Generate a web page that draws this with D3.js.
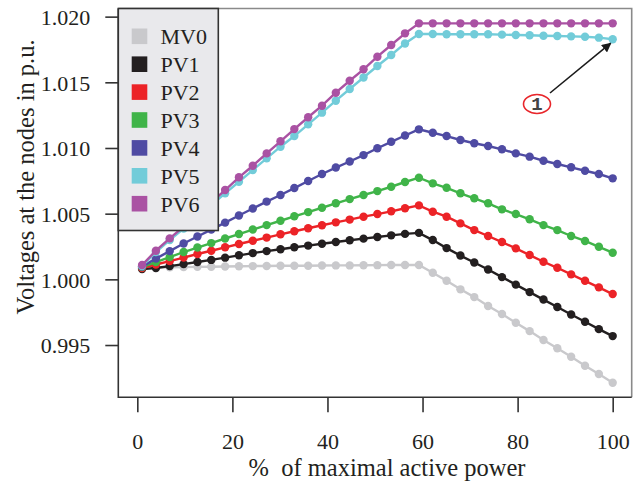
<!DOCTYPE html>
<html>
<head>
<meta charset="utf-8">
<script src="https://cdn.jsdelivr.net/npm/d3@7"></script>
<style>
  body { margin: 0; background: #fff; }
  text { font-family: "Liberation Serif", "DejaVu Serif", serif; fill: #231f20; }
</style>
</head>
<body>
<div id="chartDiv"></div>
<script>
// x positions: % of maximal active power
const xValues = [1, 3.91, 6.82, 9.74, 12.65, 15.56, 18.47, 21.38, 24.29, 27.21, 30.12, 33.03,
  35.94, 38.85, 41.76, 44.68, 47.59, 50.5, 53.41, 56.32, 59.24, 62.15, 65.06, 67.97, 70.88,
  73.79, 76.71, 79.62, 82.53, 85.44, 88.35, 91.26, 94.18, 97.09, 100];

// node voltages in p.u.
const mv0 = [1.00086, 1.00090, 1.00092, 1.00093, 1.00095, 1.00096, 1.00098, 1.00100, 1.00101,
  1.00102, 1.00103, 1.00103, 1.00104, 1.00105, 1.00106, 1.00106, 1.00107, 1.00108, 1.00109,
  1.00109, 1.00109, 1.00050, 0.99989, 0.99924, 0.99865, 0.99797, 0.99736, 0.99669, 0.99606,
  0.99538, 0.99475, 0.99411, 0.99342, 0.99279, 0.99213];
const pv1 = [1.00078, 1.00086, 1.00101, 1.00116, 1.00132, 1.00148, 1.00165, 1.00183, 1.00200,
  1.00215, 1.00229, 1.00244, 1.00257, 1.00271, 1.00284, 1.00298, 1.00310, 1.00322, 1.00335,
  1.00346, 1.00354, 1.00299, 1.00238, 1.00181, 1.00128, 1.00075, 1.00017, 0.99960, 0.99903,
  0.99846, 0.99789, 0.99732, 0.99677, 0.99621, 0.99568];
const pv2 = [1.00086, 1.00113, 1.00139, 1.00166, 1.00193, 1.00218, 1.00244, 1.00269, 1.00294,
  1.00318, 1.00343, 1.00366, 1.00389, 1.00412, 1.00434, 1.00455, 1.00477, 1.00497, 1.00518,
  1.00541, 1.00563, 1.00515, 1.00477, 1.00426, 1.00375, 1.00330, 1.00284, 1.00236, 1.00185,
  1.00134, 1.00088, 1.00038, 0.99989, 0.99939, 0.99888];
const pv3 = [1.00094, 1.00132, 1.00170, 1.00208, 1.00242, 1.00276, 1.00311, 1.00345, 1.00379,
  1.00413, 1.00446, 1.00480, 1.00512, 1.00545, 1.00579, 1.00611, 1.00642, 1.00672, 1.00705,
  1.00741, 1.00774, 1.00731, 1.00697, 1.00655, 1.00617, 1.00579, 1.00533, 1.00497, 1.00457,
  1.00413, 1.00375, 1.00330, 1.00292, 1.00248, 1.00203];
const pv4 = [1.00097, 1.00158, 1.00215, 1.00273, 1.00326, 1.00379, 1.00432, 1.00486, 1.00539,
  1.00592, 1.00642, 1.00695, 1.00749, 1.00802, 1.00851, 1.00897, 1.00946, 1.00998, 1.01047,
  1.01095, 1.01142, 1.01116, 1.01091, 1.01061, 1.01036, 1.01015, 1.00990, 1.00959, 1.00934,
  1.00903, 1.00878, 1.00853, 1.00827, 1.00802, 1.00769];
const pv5 = [1.00101, 1.00208, 1.00299, 1.00387, 1.00474, 1.00566, 1.00655, 1.00743, 1.00832,
  1.00921, 1.01010, 1.01091, 1.01180, 1.01269, 1.01360, 1.01449, 1.01537, 1.01624, 1.01708,
  1.01796, 1.01868, 1.01868, 1.01866, 1.01866, 1.01866, 1.01866, 1.01863, 1.01860, 1.01858,
  1.01855, 1.01853, 1.01850, 1.01847, 1.01840, 1.01828];
const pv6 = [1.00109, 1.00218, 1.00312, 1.00402, 1.00493, 1.00586, 1.00680, 1.00777, 1.00865,
  1.00959, 1.01051, 1.01144, 1.01234, 1.01322, 1.01421, 1.01512, 1.01599, 1.01695, 1.01784,
  1.01873, 1.01949, 1.01949, 1.01949, 1.01949, 1.01949, 1.01949, 1.01949, 1.01949, 1.01949,
  1.01949, 1.01949, 1.01949, 1.01949, 1.01949, 1.01949];

const seriesNames = ['MV0', 'PV1', 'PV2', 'PV3', 'PV4', 'PV5', 'PV6'];
const seriesValues = [mv0, pv1, pv2, pv3, pv4, pv5, pv6];
const seriesColors = ['#c9c9cc', '#231f20', '#ec2327', '#40b449', '#4f4ba3', '#72ccd9', '#aa52a3'];

const xTicks = [0, 20, 40, 60, 80, 100];
const yTicks = [0.995, 1.000, 1.005, 1.010, 1.015, 1.020];

class VoltageChart {
  constructor() {
    this.svgWidth = 643;
    this.svgHeight = 481;

    this.left = 118.3;
    this.right = 631.7;
    this.top = 8.5;
    this.bottom = 397.3;

    this.xScale = d3.scaleLinear()
      .domain([-4, 104])
      .range([this.left, this.right]);

    this.yScale = d3.scaleLinear()
      .domain([0.99102, 1.02062])
      .range([this.bottom, this.top]);
  }

  /**
   * Creates every part of the chart.
   */
  createChart() {
    this.svg = d3.select('#chartDiv').append('svg')
      .attr('width', this.svgWidth)
      .attr('height', this.svgHeight);

    this.createAxes();
    this.createSeries();
    this.createFrame();
    this.createLegend();
    this.createAnnotation();
  }

  /**
   * Tick marks, tick labels and axis titles.
   */
  createAxes() {
    let xAxis = d3.axisBottom(this.xScale)
      .tickValues(xTicks)
      .tickSize(15)
      .tickFormat(d3.format('d'));

    let xGroup = this.svg.append('g')
      .attr('transform', `translate(0, ${this.bottom})`)
      .call(xAxis);
    xGroup.select('.domain').remove();
    xGroup.selectAll('line').attr('stroke', '#333').attr('stroke-width', 1.6);
    xGroup.selectAll('text')
      .attr('y', 52)
      .attr('dy', 0)
      .style('font-size', '22px')
      .style('font-family', '"Liberation Serif", serif')
      .attr('fill', '#231f20');

    let yAxis = d3.axisLeft(this.yScale)
      .tickValues(yTicks)
      .tickSize(13)
      .tickPadding(15)
      .tickFormat(d3.format('.3f'));

    let yGroup = this.svg.append('g')
      .attr('transform', `translate(${this.left}, 0)`)
      .call(yAxis);
    yGroup.select('.domain').remove();
    yGroup.selectAll('line').attr('stroke', '#333').attr('stroke-width', 1.6);
    yGroup.selectAll('text')
      .attr('dy', '0.35em')
      .style('font-size', '22px')
      .style('font-family', '"Liberation Serif", serif')
      .attr('fill', '#231f20');

    this.svg.append('text')
      .attr('x', 387)
      .attr('y', 476)
      .attr('text-anchor', 'middle')
      .style('font-size', '24.5px')
      .style('white-space', 'pre')
      .text('%  of maximal active power');

    this.svg.append('text')
      .attr('transform', `translate(34, 177) rotate(-90)`)
      .attr('text-anchor', 'middle')
      .style('font-size', '24.5px')
      .text('Voltages at the nodes in p.u.');
  }

  /**
   * Lines with dots for every node.
   */
  createSeries() {
    let line = d3.line()
      .x((d, i) => this.xScale(xValues[i]))
      .y(d => this.yScale(d));

    let groups = this.svg.append('g')
      .selectAll('g')
      .data(seriesValues)
      .enter()
      .append('g');

    groups.append('path')
      .attr('d', d => line(d))
      .attr('fill', 'none')
      .attr('stroke', (d, i) => seriesColors[i])
      .attr('stroke-width', 2.4);

    groups.each(function (values, k) {
      d3.select(this).selectAll('circle')
        .data(values)
        .enter()
        .append('circle')
        .attr('cx', (d, i) => chart.xScale(xValues[i]))
        .attr('cy', d => chart.yScale(d))
        .attr('r', 4.2)
        .attr('fill', seriesColors[k]);
    });
  }

  /**
   * Plot frame: dark on the left and bottom, grey on top and right.
   */
  createFrame() {
    let frame = this.svg.append('g');
    frame.append('path')
      .attr('d', `M${this.left},${this.top}H${this.right}V${this.bottom}`)
      .attr('fill', 'none')
      .attr('stroke', '#8a8a8a')
      .attr('stroke-width', 1.6);
    frame.append('path')
      .attr('d', `M${this.left},${this.top}V${this.bottom}H${this.right}`)
      .attr('fill', 'none')
      .attr('stroke', '#333')
      .attr('stroke-width', 1.6);
  }

  /**
   * Legend in the top left corner.
   */
  createLegend() {
    let legend = this.svg.append('g');

    legend.append('rect')
      .attr('x', this.left)
      .attr('y', this.top)
      .attr('width', 100)
      .attr('height', 222)
      .attr('fill', '#e9e9ec')
      .attr('stroke', '#333')
      .attr('stroke-width', 1.6);

    let items = legend.selectAll('.item')
      .data(seriesNames)
      .enter()
      .append('g')
      .attr('class', 'item')
      .attr('transform', (d, i) => `translate(0, ${36.3 + i * 27.9})`);

    items.append('rect')
      .attr('x', 131.7)
      .attr('y', -7.8)
      .attr('width', 15.6)
      .attr('height', 15.6)
      .attr('fill', (d, i) => seriesColors[i]);

    items.append('text')
      .attr('x', 160.5)
      .attr('y', 7.8)
      .style('font-size', '22px')
      .text(d => d);
  }

  /**
   * Arrow with circled number pointing at the last PV5 point.
   */
  createAnnotation() {
    let defs = this.svg.append('defs');
    defs.append('marker')
      .attr('id', 'arrowHead')
      .attr('viewBox', '0 0 10 10')
      .attr('refX', 9)
      .attr('refY', 5)
      .attr('markerWidth', 6)
      .attr('markerHeight', 6)
      .attr('orient', 'auto')
      .append('path')
      .attr('d', 'M0,0L10,5L0,10Z')
      .attr('fill', '#1a1a1a');

    let endX = this.xScale(xValues[xValues.length - 1]) - 2;
    let endY = this.yScale(pv5[pv5.length - 1]) + 4;

    this.svg.append('line')
      .attr('x1', 550)
      .attr('y1', 93)
      .attr('x2', endX)
      .attr('y2', endY)
      .attr('stroke', '#1a1a1a')
      .attr('stroke-width', 1.6)
      .attr('marker-end', 'url(#arrowHead)');

    this.svg.append('ellipse')
      .attr('cx', 537)
      .attr('cy', 104)
      .attr('rx', 13.5)
      .attr('ry', 9.5)
      .attr('fill', '#fff')
      .attr('stroke', '#e8262b')
      .attr('stroke-width', 1.6);

    this.svg.append('text')
      .attr('x', 537)
      .attr('y', 110)
      .attr('text-anchor', 'middle')
      .style('font-family', '"Liberation Mono", monospace')
      .style('font-size', '19px')
      .style('font-weight', 'bold')
      .style('fill', '#444')
      .text('1');
  }
}

const chart = new VoltageChart();
chart.createChart();
</script>
</body>
</html>
